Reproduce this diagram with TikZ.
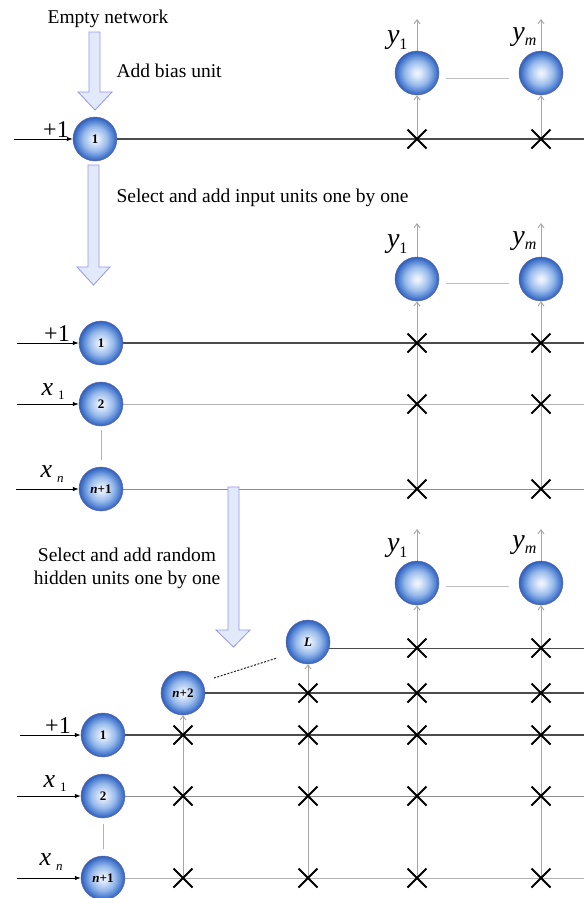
\documentclass[tikz,border=0pt]{standalone}
\usepackage{fontspec}
\setmainfont{Liberation Serif}
\usetikzlibrary{arrows.meta,shapes.misc}
\pgfdeclarelayer{bg}
\pgfdeclarelayer{paper}
\pgfsetlayers{paper,bg,main}
\definecolor{ballA}{RGB}{242,246,255}
\definecolor{ballB}{RGB}{150,185,235}
\definecolor{ballC}{RGB}{70,120,205}
\definecolor{ballD}{RGB}{45,95,185}
\definecolor{hfill}{RGB}{226,233,248}
\definecolor{hdraw}{RGB}{150,150,240}
\pgfdeclareradialshading{blueball}{\pgfpoint{0bp}{0bp}}{color(0bp)=(ballA); color(4bp)=(ballA!80!ballB); color(14bp)=(ballB); color(22bp)=(ballC); color(25bp)=(ballD); color(50bp)=(ballD)}
\tikzset{
  unit/.style={circle, minimum size=44pt, inner sep=0pt, draw=black!55!blue!60, line width=0.5pt, shading=blueball, font=\fontsize{13}{13}\selectfont\bfseries},
  xmark/.style={cross out, draw=black, line width=2pt, minimum size=17pt, inner sep=0pt},
  rowdark/.style={draw=black!70, line width=1.1pt},
  rowmid/.style={draw=black!45, line width=1pt},
  rowlight/.style={draw=black!30, line width=1pt},
  inarrow/.style={draw=black, line width=0.9pt, -{Latex[length=6pt,width=4.5pt]}},
  varrow/.style={draw=black!35, line width=0.9pt, -{Straight Barb[length=4pt,width=6pt]}},
  linkline/.style={draw=black!25, line width=1pt},
  gapline/.style={draw=black!30, line width=0.8pt},
  hollow/.style={fill=hfill, draw=hdraw, line width=0.8pt},
  caption/.style={font=\fontsize{19.5}{23}\selectfont},
  plus/.style={font=\fontsize{24}{24}\selectfont, anchor=base},
  xlab/.style={font=\fontsize{26}{26}\selectfont\itshape, anchor=base west},
  ylab/.style={font=\fontsize{28}{28}\selectfont\itshape, anchor=base east},
}
\newcommand{\subl}[2][6pt]{\raisebox{-#1}{\fontsize{16}{16}\selectfont #2}}
\newcommand{\subx}[2][4pt]{\hspace{5pt}\raisebox{-#1}{\fontsize{13}{13}\selectfont #2}}
\begin{document}
\begin{tikzpicture}[x=1pt,y=-1pt]
\useasboundingbox (0,0) rectangle (584,898);
\begin{pgfonlayer}{paper}
\fill[white] (0,0) rectangle (584,898);
\end{pgfonlayer}

% ---------------- Panel 1 ----------------
\node[caption, anchor=base] (t1) at (108,23) {Empty network};
\node[caption, anchor=base west] (t2) at (113,77) {Add bias unit};
\draw[hollow] (89,32) -- (100,32) -- (100,92) -- (112,92) -- (95,110) -- (78,92) -- (89,92) -- cycle;

\node[unit] (p1a) at (95,139) {1};
\node[unit] (p1y1) at (417,73) {};
\node[unit] (p1ym) at (541,73) {};
\node[plus] (p1p) at (56,137) {+1};
\node[ylab] (p1l1) at (411,43) {y\subl{\upshape 1}};
\node[ylab] (p1lm) at (540,40) {y\subl[5pt]{m}};
\coordinate (p1in) at (14,139);
\coordinate (p1end) at (584,139);
\coordinate (p1t1) at (417,19);
\coordinate (p1tm) at (541,19);
\node[xmark] (p1x1) at (417,139) {};
\node[xmark] (p1xm) at (541,139) {};
\begin{pgfonlayer}{bg}
\draw[inarrow] (p1in) -- (p1a);
\draw[rowdark] (p1a) -- (p1end);
\draw[varrow] (p1x1.center) -- (p1y1);
\draw[varrow] (p1xm.center) -- (p1ym);
\draw[varrow] (p1y1) -- (p1t1);
\draw[varrow] (p1ym) -- (p1tm);
\draw[linkline, shorten <=7pt, shorten >=10pt] ([yshift=-5pt]p1y1.east) -- ([yshift=-5pt]p1ym.west);
\end{pgfonlayer}

% ---------------- Panel 2 ----------------
\draw[hollow] (88,165) -- (99,165) -- (99,267) -- (110,267) -- (93.5,285) -- (77,267) -- (88,267) -- cycle;
\node[caption, anchor=base west] (t3) at (113,202) {Select and add input units one by one};

\node[unit] (p2a) at (101,343) {1};
\node[unit] (p2b) at (101,404) {2};
\node[unit] (p2c) at (101,489) {\textit{n}+1};
\node[unit] (p2y1) at (417,279) {};
\node[unit] (p2ym) at (541,279) {};
\node[plus] (p2p) at (57,341) {+1};
\node[xlab] (p2x1) at (38,395) {x\subx{\upshape 1}};
\node[xlab] (p2xn) at (37,477) {x\subx[5pt]{n}};
\node[ylab] (p2l1) at (411,247) {y\subl{\upshape 1}};
\node[ylab] (p2lm) at (540,244) {y\subl[5pt]{m}};
\coordinate (p2ia) at (17,343);
\coordinate (p2ib) at (17,404);
\coordinate (p2ic) at (16,489);
\coordinate (p2ea) at (584,343);
\coordinate (p2eb) at (584,404);
\coordinate (p2ec) at (584,489);
\coordinate (p2t1) at (417,223);
\coordinate (p2tm) at (541,223);
\foreach \r/\yy in {a/343,b/404,c/489}{
  \node[xmark] (p2x1\r) at (417,\yy) {};
  \node[xmark] (p2xm\r) at (541,\yy) {};
}
\begin{pgfonlayer}{bg}
\draw[inarrow] (p2ia) -- (p2a);
\draw[inarrow] (p2ib) -- (p2b);
\draw[inarrow] (p2ic) -- (p2c);
\draw[rowdark] (p2a) -- (p2ea);
\draw[rowlight] (p2b) -- (p2eb);
\draw[rowmid] (p2c) -- (p2ec);
\draw[gapline, shorten <=4pt, shorten >=7pt] (p2b) -- (p2c);
\draw[varrow] (p2x1c.center) -- (p2y1);
\draw[varrow] (p2xmc.center) -- (p2ym);
\draw[varrow] (p2y1) -- (p2t1);
\draw[varrow] (p2ym) -- (p2tm);
\draw[linkline, shorten <=7pt, shorten >=10pt] ([yshift=-4pt]p2y1.east) -- ([yshift=-4pt]p2ym.west);
\end{pgfonlayer}

% ---------------- Panel 3 ----------------
\draw[hollow] (228,487) -- (239,487) -- (239,630) -- (250,630) -- (233.5,647) -- (216,630) -- (228,630) -- cycle;
\node[caption, align=center, anchor=base] (t4) at (127,584) {Select and add random\\hidden units one by one};

\node[unit] (p3a) at (103,735) {1};
\node[unit] (p3b) at (103,796) {2};
\node[unit] (p3c) at (103,878) {\textit{n}+1};
\node[unit] (p3h) at (183,693) {\textit{n}+2};
\node[unit] (p3L) at (308,642) {\textit{L}};
\node[unit] (p3y1) at (417,583) {};
\node[unit] (p3ym) at (541,583) {};
\node[plus] (p3p) at (58,733) {+1};
\node[xlab] (p3x1) at (40,787) {x\subx{\upshape 1}};
\node[xlab] (p3xn) at (36,865) {x\subx[5pt]{n}};
\node[ylab] (p3l1) at (411,551) {y\subl{\upshape 1}};
\node[ylab] (p3lm) at (540,548) {y\subl[5pt]{m}};
\coordinate (p3ia) at (20,735);
\coordinate (p3ib) at (17,796);
\coordinate (p3ic) at (17,878);
\coordinate (p3ea) at (584,735);
\coordinate (p3eb) at (584,796);
\coordinate (p3ec) at (584,878);
\coordinate (p3eh) at (584,693);
\coordinate (p3eL) at (584,648);
\coordinate (p3t1) at (417,529);
\coordinate (p3tm) at (541,529);
\coordinate (p3d1) at (214,678);
\coordinate (p3d2) at (277,658);
\foreach \r/\yy in {a/735,b/796,c/878}{
  \node[xmark] (p3xh\r) at (183,\yy) {};
}
\foreach \r/\yy in {h/693,a/735,b/796,c/878}{
  \node[xmark] (p3xL\r) at (308,\yy) {};
}
\foreach \r/\yy in {L/648,h/693,a/735,b/796,c/878}{
  \node[xmark] (p3x1\r) at (417,\yy) {};
  \node[xmark] (p3xm\r) at (541,\yy) {};
}
\begin{pgfonlayer}{bg}
\draw[inarrow] (p3ia) -- (p3a);
\draw[inarrow] (p3ib) -- (p3b);
\draw[inarrow] (p3ic) -- (p3c);
\draw[rowdark] (p3a) -- (p3ea);
\draw[rowmid] (p3b) -- (p3eb);
\draw[rowlight] (p3c) -- (p3ec);
\draw[rowdark] (p3h) -- (p3eh);
\draw[rowdark] (p3L.-16) -- (p3L.-16 -| p3eL);
\draw[gapline, shorten <=6pt, shorten >=7pt] (p3b) -- (p3c);
\draw[varrow] (p3xhc.center) -- (p3h);
\draw[varrow] (p3xLc.center) -- (p3L);
\draw[varrow] (p3x1c.center) -- (p3y1);
\draw[varrow] (p3xmc.center) -- (p3ym);
\draw[varrow] (p3y1) -- (p3t1);
\draw[varrow] (p3ym) -- (p3tm);
\draw[linkline, shorten <=7pt, shorten >=10pt] ([yshift=-3pt]p3y1.east) -- ([yshift=-3pt]p3ym.west);
\draw[draw=black!85, line width=1pt, dash pattern=on 2pt off 1.5pt] (p3d1) -- (p3d2);
\end{pgfonlayer}
\end{tikzpicture}
\end{document}
